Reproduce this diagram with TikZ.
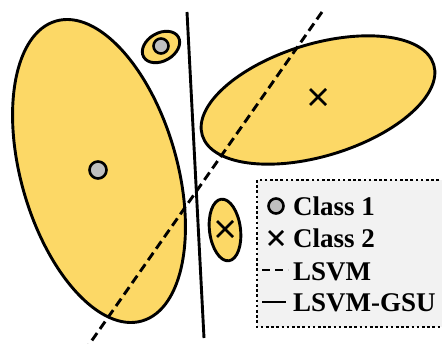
\documentclass[tikz,border=0pt]{standalone}
\usepackage{fontspec}
\setmainfont{Liberation Serif}
\usetikzlibrary{positioning}

\begin{document}
\begin{tikzpicture}[x=1pt,y=1pt,
    blob/.style={draw=black,line width=2.9pt,fill={rgb,255:red,252;green,216;blue,102}},
    classone/.style={draw=black,line width=2.6pt,fill=gray!50},
    classtwo/.style={line width=2.8pt},
    legtext/.style={anchor=base west,inner sep=0pt,font=\bfseries\fontsize{27}{30}\selectfont}]
      \useasboundingbox (0,0) rectangle (442,343);
      % clusters
      \draw[blob,shift={(99,172)},rotate=106] (0,0) ellipse (156 and 78);
      \draw[blob,shift={(161,296)},rotate=30] (0,0) ellipse (20 and 14);
      \draw[blob,shift={(318,243)},rotate=17] (0,0) ellipse (121 and 56);
      \draw[blob,shift={(225,113)},rotate=97] (0,0) ellipse (31 and 15.5);
      % means
      \draw[classone] (98,173) circle (8.5);
      \draw[classone] (161,297) circle (7.5);
      \draw[classtwo] (310,238)--(326,254) (310,254)--(326,238);
      \draw[classtwo] (217,106)--(233,122) (217,122)--(233,106);
      % separating lines
      \coordinate (gsutop) at (187,331);
      \coordinate (gsubot) at (204,5);
      \coordinate (svmtop) at (322,331);
      \coordinate (svmbot) at (88,-3);
      \draw[line width=2.9pt] (gsutop)--(gsubot);
      \draw[line width=2.9pt,dash pattern=on 9pt off 5pt] (svmtop)--(svmbot);
      % legend
      \draw[line width=2.6pt,dash pattern=on 2.6pt off 2.6pt,fill=gray!10] (257,163) rectangle (448,16);
      \draw[classone] (276,137) circle (7.5);
      \node[legtext] (lone) at (293,127) {Class 1};
      \draw[classtwo] (269,98)--(283,112) (269,112)--(283,98);
      \node[legtext] (ltwo) at (293,95) {Class 2};
      \draw[line width=2.9pt,dash pattern=on 8pt off 5pt] (262,73)--(288,73);
      \node[legtext] (lsvm) at (293,63) {LSVM};
      \draw[line width=2.9pt] (262,41)--(286,41);
      \node[legtext] (lgsu) at (293,31) {LSVM-GSU};
\end{tikzpicture}
\end{document}
